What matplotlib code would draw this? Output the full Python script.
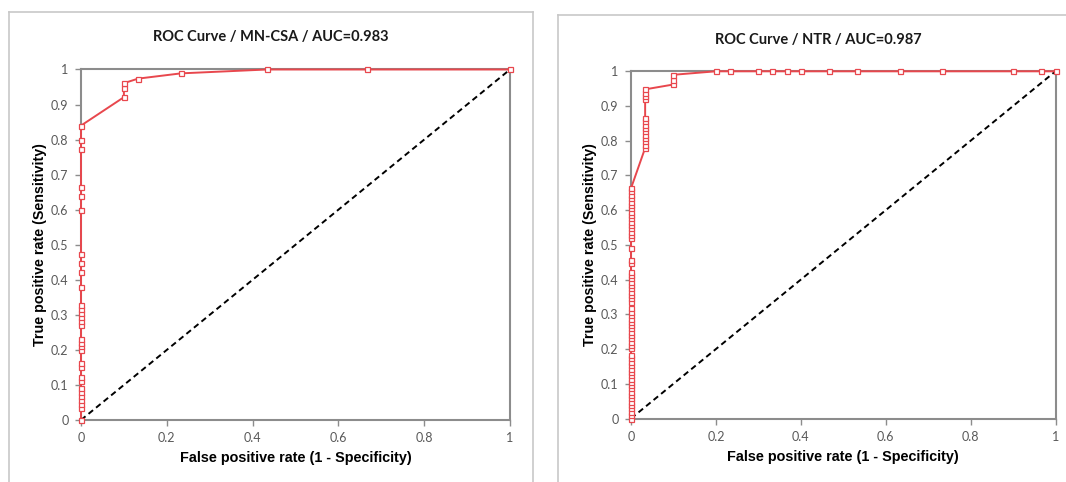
import matplotlib
matplotlib.use("Agg")
import matplotlib.pyplot as plt
from matplotlib.lines import Line2D
from matplotlib.ticker import FuncFormatter

W, H = 1066, 482

# ---- Data: MN-CSA ----
mn_fpr = [0.0] * 31 + [0.1, 0.1, 0.1, 0.1333, 0.2333, 0.4333, 0.6667, 1.0]
mn_tpr = [0.0, 0.033, 0.045, 0.056, 0.068, 0.079, 0.090, 0.111, 0.123, 0.152,
          0.163, 0.201, 0.211, 0.220, 0.230, 0.271, 0.282, 0.294, 0.305, 0.316,
          0.328, 0.380, 0.422, 0.448, 0.475, 0.598, 0.638, 0.665, 0.772, 0.800,
          0.840,
          0.921, 0.947, 0.961, 0.974, 0.989, 1.0, 1.0, 1.0]

# ---- Data: NTR ----
ntr_tpr_x0 = [0.000, 0.010, 0.019, 0.029, 0.038, 0.048, 0.058, 0.067, 0.077, 0.087,
              0.096, 0.106, 0.115, 0.125, 0.135, 0.144, 0.154, 0.163, 0.173, 0.183,
              0.202, 0.212, 0.221, 0.231, 0.240, 0.250, 0.260, 0.269, 0.279, 0.288,
              0.298, 0.308, 0.317,
              0.336, 0.346, 0.356, 0.365, 0.375, 0.385, 0.394, 0.404, 0.413, 0.423,
              0.447, 0.457, 0.490,
              0.519, 0.529, 0.538, 0.548, 0.558, 0.567, 0.577, 0.587, 0.596, 0.606,
              0.615, 0.625, 0.635, 0.644, 0.654, 0.663]
ntr_tpr_x1 = [0.779, 0.788, 0.798, 0.808, 0.817, 0.827, 0.837, 0.846, 0.856, 0.865,
              0.919, 0.929, 0.938, 0.948]
ntr_tpr_x2 = [0.962, 0.976, 0.990]
ntr_fpr_top = [0.2, 0.2333, 0.3, 0.3333, 0.3667, 0.4, 0.4667, 0.5333, 0.6333,
               0.7333, 0.9, 0.9667, 1.0]

ntr_fpr = ([0.0] * len(ntr_tpr_x0) + [0.0333] * len(ntr_tpr_x1)
           + [0.1] * len(ntr_tpr_x2) + ntr_fpr_top)
ntr_tpr = ntr_tpr_x0 + ntr_tpr_x1 + ntr_tpr_x2 + [1.0] * len(ntr_fpr_top)

diag = [0, 1]

titles = ["ROC Curve / MN-CSA / AUC=0.983", "ROC Curve / NTR / AUC=0.987"]
xlabel = "False positive rate (1 - Specificity)"
ylabel = "True positive rate (Sensitivity)"
xticks = [0, 0.2, 0.4, 0.6, 0.8, 1]
yticks = [0, 0.1, 0.2, 0.3, 0.4, 0.5, 0.6, 0.7, 0.8, 0.9, 1]

RED = "#E8474D"
SPINE = "#8C8C8C"
TICKTXT = "#595959"
FRAME = "#C8C8C8"

fig = plt.figure(figsize=(W / 100, H / 100), dpi=100)
fig.patch.set_facecolor("white")

def fx(px):
    return px / W

def fy(py):
    return 1 - py / H

# panel frames (cut off at bottom)
for (l, t, r) in [(8.6, 12, 533.3), (558.3, 15, 1080)]:
    fig.add_artist(Line2D([fx(l), fx(l)], [fy(t), fy(H + 5)], color=FRAME, lw=1.2))
    fig.add_artist(Line2D([fx(l), fx(r)], [fy(t), fy(t)], color=FRAME, lw=1.2))
    fig.add_artist(Line2D([fx(r), fx(r)], [fy(t), fy(H + 5)], color=FRAME, lw=1.2))

axes_px = [(81, 69.5, 510, 420), (631, 71.3, 1055.5, 418.5)]
title_pos = [(271, 37), (818.5, 40)]
xlab_y = [458, 457]
ylab_x = [40, 590]
data = [(mn_fpr, mn_tpr), (ntr_fpr, ntr_tpr)]

fmt = FuncFormatter(lambda v, p: f"{v:g}")

for i in range(2):
    l, t, r, b = axes_px[i]
    ax = fig.add_axes([fx(l), fy(b), fx(r) - fx(l), fy(t) - fy(b)])
    ax.set_xlim(0, 1)
    ax.set_ylim(0, 1)
    for s in ax.spines.values():
        s.set_color(SPINE)
        s.set_linewidth(1.5)
    ax.set_xticks(xticks)
    ax.set_yticks(yticks)
    ax.xaxis.set_major_formatter(fmt)
    ax.yaxis.set_major_formatter(fmt)
    ax.tick_params(direction="out", length=4, width=1, color=SPINE,
                   labelsize=9, labelcolor=TICKTXT, pad=5)
    for lab in ax.get_xticklabels() + ax.get_yticklabels():
        lab.set_family("Lato")

    ax.plot(diag, diag, color="black", lw=1.4, ls=(0, (3, 2)), zorder=2)
    xs, ys = data[i]
    ax.plot(xs, ys, color=RED, lw=1.4, marker="s", markersize=3.6,
            markerfacecolor="white", markeredgecolor=RED, markeredgewidth=0.9,
            clip_on=False, zorder=3)

    fig.text(fx((l + r) / 2), fy(xlab_y[i]), xlabel, fontsize=10.4,
             fontweight="bold", family="Liberation Sans", ha="center", va="center")
    fig.text(fx(ylab_x[i]), fy((t + b) / 2), ylabel, fontsize=10.3, fontweight="bold",
             family="Liberation Sans", ha="center", va="center", rotation=90)
    tx, ty = title_pos[i]
    fig.text(fx(tx), fy(ty), titles[i], fontsize=10.5, fontweight="bold",
             family="Lato", ha="center", va="center", color="#1a1a1a")

fig.savefig("out.png", dpi=100, facecolor="white")
